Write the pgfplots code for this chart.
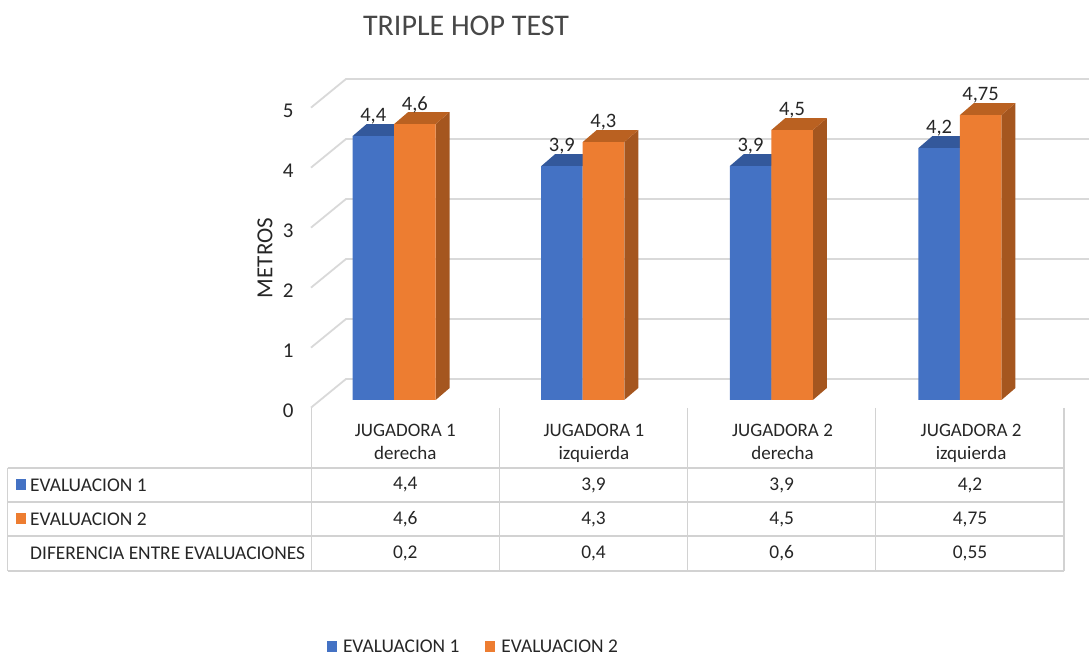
\documentclass[border=0pt]{standalone}
\usepackage{pgfplots}
\pgfplotsset{compat=1.18}
\usepackage{fontspec}
\setmainfont{Carlito}
\definecolor{evA}{HTML}{4472C4}
\definecolor{evB}{HTML}{ED7D31}
\definecolor{evAtop}{HTML}{33589B}
\definecolor{evBtop}{HTML}{BA6121}
\definecolor{evBside}{HTML}{A5561F}
\definecolor{gridc}{HTML}{D9D9D9}
\definecolor{tablec}{HTML}{D2D2D2}
\definecolor{txt}{HTML}{262626}
% x unit = 188.6 px, y unit = 60 px; depth of the 3D bars
\newcommand{\dpx}{0.0742}
\newcommand{\dpy}{0.2}
% #1 left edge, #2 right edge, #3 value, #4 top colour, #5 side colour
\newcommand{\solid}[5]{%
  \addplot[fill=#5,draw=none,forget plot] coordinates {(#2,0) (#2+\dpx,\dpy) (#2+\dpx,#3+\dpy) (#2,#3)} -- cycle;
  \addplot[fill=#4,draw=none,forget plot] coordinates {(#1,#3) (#1+\dpx,#3+\dpy) (#2+\dpx,#3+\dpy) (#2,#3)} -- cycle;
}
\newcommand{\gridl}[1]{%
  \addplot[gridc,line width=1.8pt,forget plot] coordinates {(-0.5,#1-0.127) (-0.3145,#1+0.35) (3.625,#1+0.35)};
}
\begin{document}
\begin{tikzpicture}[x=1pt,y=1pt]
\path[use as bounding box] (0,0) rectangle (1089,656);
\begin{axis}[
  at={(0,0)},anchor=south west,
  scale only axis,width=1089pt,height=656pt,
  xmin=-2.149,xmax=3.625,ymin=-4.267,ymax=6.667,
  clip=false,
  axis line style={draw=none},tick style={draw=none},
  /pgf/number format/.cd,use comma,fixed,precision=2,assume math mode=true,
  /pgfplots/.cd,
  xtick={0,1,2,3},
  xticklabels={{JUGADORA 1\\derecha},{JUGADORA 1\\izquierda},{JUGADORA 2\\derecha},{JUGADORA 2\\izquierda}},
  xticklabel style={align=center,anchor=north,yshift=235pt,font=\fontsize{19}{23}\selectfont,text=txt},
  ytick={0,1,2,3,4,5},
  yticklabel style={anchor=east,xshift=297pt,yshift=-11pt,font=\fontsize{21}{23}\selectfont,text=txt},
  title={TRIPLE HOP TEST},
  every axis title/.style={at={(axis description cs:0.428,0.9604)},anchor=center,font=\fontsize{30}{33}\selectfont,text=txt!85!white},
  ylabel={METROS},
  every axis y label/.style={at={(axis description cs:0.2433,0.6067)},anchor=center,rotate=90,font=\fontsize{23}{25}\selectfont,text=txt},
  legend style={at={(axis description cs:0.3003,0.0145)},anchor=west,draw=none,fill=none,
    font=\fontsize{19.4}{21}\selectfont,text=txt,legend columns=2,inner sep=0pt,outer sep=0pt,
    /tikz/every even column/.style={column sep=24pt},
    /tikz/every odd column/.style={column sep=4pt}},
  legend cell align=left,
  nodes near coords style={anchor=center,yshift=19.5pt,font=\fontsize{20.5}{22}\selectfont,text=txt},
]
\gridl{0}\gridl{1}\gridl{2}\gridl{3}\gridl{4}\gridl{5}
% Evaluacion 1
\solid{-0.2790}{-0.0590}{4.4}{evAtop}{evAtop}
\solid{0.7210}{0.9410}{3.9}{evAtop}{evAtop}
\solid{1.7210}{1.9410}{3.9}{evAtop}{evAtop}
\solid{2.7210}{2.9410}{4.2}{evAtop}{evAtop}
\addplot[ybar,bar width=41.5pt,bar shift=-32pt,fill=evA,draw=none,nodes near coords,
  every node near coord/.append style={xshift=-32pt},
  legend image code/.code={\fill[evA] (0pt,-5.5pt) rectangle (10pt,5.5pt);}]
  coordinates {(0,4.4) (1,3.9) (2,3.9) (3,4.2)};
\addlegendentry{EVALUACION 1}
% Evaluacion 2
\solid{-0.0590}{0.1610}{4.6}{evBtop}{evBside}
\solid{0.9410}{1.1610}{4.3}{evBtop}{evBside}
\solid{1.9410}{2.1610}{4.5}{evBtop}{evBside}
\solid{2.9410}{3.1610}{4.75}{evBtop}{evBside}
\addplot[ybar,bar width=41.5pt,bar shift=9.5pt,fill=evB,draw=none,nodes near coords,
  every node near coord/.append style={xshift=9.5pt},
  legend image code/.code={\fill[evB] (0pt,-5.5pt) rectangle (10pt,5.5pt);}]
  coordinates {(0,4.6) (1,4.3) (2,4.5) (3,4.75)};
\addlegendentry{EVALUACION 2}
\end{axis}
\begin{scope}[x=1pt,y=-1pt,yshift=656pt]
  \draw[tablec,line width=1.8pt] (7.5,468) -- (1064,468) (7.5,502) -- (1064,502) (7.5,536) -- (1064,536) (7.5,571) -- (1064,571);
  \draw[tablec,line width=1.8pt] (7.5,468) -- (7.5,571);
  \foreach \x in {311.5,499.5,687.5,875.5,1064}{\draw[tablec,line width=1.8pt] (\x,408) -- (\x,571);}
  \fill[evA] (16,479) rectangle (25.5,490);
  \fill[evB] (16,513) rectangle (25.5,524);
  \tikzset{tt/.style={font=\fontsize{19.4}{21}\selectfont,text=txt,inner sep=0pt}}
  \node[tt,anchor=west] at (30,485) {EVALUACION 1};
  \node[tt,anchor=west] at (30,519.5) {EVALUACION 2};
  \node[tt,anchor=west] at (30,553.5) {DIFERENCIA ENTRE EVALUACIONES};
  \foreach \x/\a/\b/\c in {405.3/{4,4}/{4,6}/{0,2},593.5/{3,9}/{4,3}/{0,4},781.7/{3,9}/{4,5}/{0,6},970/{4,2}/{4,75}/{0,55}}{
    \node[tt] at (\x,485) {\a};
    \node[tt] at (\x,519.5) {\b};
    \node[tt] at (\x,553.5) {\c};
  }
\end{scope}
\end{tikzpicture}
\end{document}
